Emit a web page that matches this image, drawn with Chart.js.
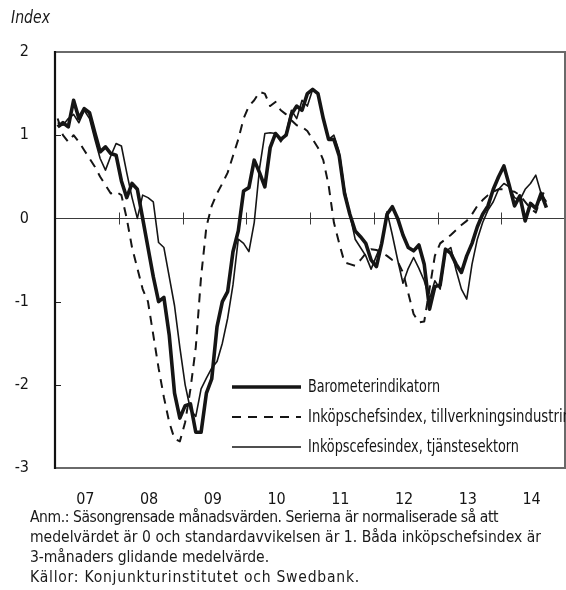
<!DOCTYPE html>
<html><head><meta charset="utf-8">
<script src="https://cdn.jsdelivr.net/npm/chart.js@4.4.1/dist/chart.umd.min.js"></script>
<style>
html,body{margin:0;padding:0;background:#fff;}
#wrap{position:relative;width:566px;height:590px;overflow:hidden;background:#fff;}
canvas{position:absolute;left:0;top:0;}
.f{font-family:"Liberation Sans Narrow","DejaVu Sans Condensed","Roboto",sans-serif;color:#1a1a1a;}
#idx{position:absolute;left:11px;top:7px;font-size:17px;font-style:italic;transform-origin:0 0;transform:scaleX(0.92);}
#notes{position:absolute;left:30px;top:507px;font-size:16.5px;line-height:20px;white-space:nowrap;}
#notes div{height:20px;}
#notes span{display:inline-block;transform-origin:0 0;}
</style></head><body>
<div id="wrap">
<canvas id="c" width="566" height="590"></canvas>
<div id="idx" class="f">Index</div>
<div id="notes" class="f">
<div><span>Anm.: Säsongrensade månadsvärden. Serierna är normaliserade så att</span></div>
<div><span>medelvärdet är 0 och standardavvikelsen är 1. Båda inköpschefsindex är</span></div>
<div><span>3-månaders glidande medelvärde.</span></div>
<div><span>Källor: Konjunkturinstitutet och Swedbank.</span></div>
</div>
</div>
<script>
// Year categories (x axis)
const yearLabels = ['07','08','09','10','11','12','13','14'];
// Series names
const seriesNames = ['Barometerindikatorn','Inköpschefsindex, tillverkningsindustrin','Inköpscefesindex, tjänstesektorn'];
// Monthly values, Jan 2007 onward
const barometer = [1.10,1.15,1.10,1.42,1.20,1.32,1.27,1.03,0.80,0.86,0.78,0.76,
  0.45,0.25,0.42,0.35,0.00,-0.35,-0.70,-1.00,-0.95,-1.40,-2.10,-2.40,
  -2.25,-2.23,-2.57,-2.57,-2.10,-1.93,-1.30,-1.00,-0.88,-0.40,-0.15,0.33,
  0.37,0.70,0.55,0.38,0.85,1.02,0.95,1.00,1.25,1.35,1.30,1.50,
  1.55,1.50,1.20,0.95,0.95,0.75,0.30,0.05,-0.15,-0.22,-0.30,-0.50,
  -0.58,-0.30,0.05,0.14,0.00,-0.20,-0.35,-0.39,-0.32,-0.55,-1.09,-0.82,
  -0.80,-0.37,-0.42,-0.55,-0.65,-0.45,-0.30,-0.10,0.05,0.15,0.35,0.50,
  0.63,0.40,0.15,0.27,-0.03,0.18,0.12,0.30,0.13];
const pmiIndustry = [1.20,1.00,0.92,1.00,0.92,0.82,0.72,0.62,0.50,0.40,0.30,0.32,
  0.28,0.00,-0.35,-0.60,-0.85,-1.00,-1.40,-1.80,-2.15,-2.45,-2.65,-2.68,
  -2.45,-2.05,-1.55,-0.70,-0.10,0.15,0.30,0.42,0.55,0.75,0.95,1.20,
  1.35,1.42,1.52,1.50,1.35,1.40,1.30,1.25,1.18,1.12,1.10,1.05,
  0.95,0.85,0.70,0.40,-0.05,-0.30,-0.53,-0.55,-0.57,-0.50,-0.42,-0.37,
  -0.38,-0.41,-0.45,-0.50,-0.52,-0.65,-0.90,-1.15,-1.25,-1.24,-0.85,-0.45,
  -0.30,-0.25,-0.20,-0.14,-0.08,-0.03,0.05,0.15,0.22,0.28,0.32,0.35,
  0.35,0.33,0.32,0.28,0.20,0.12,0.07,0.25,0.37];
const pmiServices = [1.15,1.12,1.20,1.25,1.15,1.30,1.20,0.95,0.72,0.58,0.75,0.90,
  0.87,0.55,0.25,0.00,0.28,0.25,0.20,-0.29,-0.35,-0.70,-1.05,-1.55,
  -2.00,-2.30,-2.38,-2.05,-1.92,-1.80,-1.72,-1.50,-1.20,-0.80,-0.25,-0.30,
  -0.40,-0.05,0.60,1.02,1.03,1.02,0.92,1.02,1.30,1.20,1.42,1.35,
  1.55,1.50,1.20,0.95,1.00,0.80,0.35,0.05,-0.25,-0.35,-0.45,-0.61,
  -0.45,-0.30,0.08,-0.20,-0.50,-0.78,-0.60,-0.47,-0.60,-0.75,-0.97,-0.75,
  -0.85,-0.40,-0.35,-0.62,-0.85,-0.97,-0.55,-0.25,-0.05,0.10,0.20,0.35,
  0.42,0.38,0.25,0.22,0.35,0.42,0.52,0.30,0.20];
const yTicks = [-3,-2,-1,0,1,2];

const FONT = '"Liberation Sans Narrow","DejaVu Sans Condensed","Roboto",sans-serif';
const INK = '#151515';
const toXY = arr => arr.map((v,i)=>({x:i+0.5,y:v}));

// fit note lines: one common horizontal scale, then letter-spacing per line
(function(){
  const target = [468, 511, 239, 330];
  const spans = [...document.querySelectorAll('#notes span')];
  const w0 = spans.map(s=>s.getBoundingClientRect().width);
  const sc = target[1] / w0[1];
  spans.forEach((s,i)=>{
    if(i!==1){
      const n = s.textContent.length;
      const ls = (target[i]/sc - w0[i]) / n;
      s.style.letterSpacing = ls.toFixed(3)+'px';
    }
    s.style.transform = 'scaleX(' + sc + ')';
  });
})();

const styles = [
  {w:3.6, dash:[]},
  {w:2, dash:[9,7]},
  {w:1.6, dash:[]}
];
const legendWidths = [132, 263, 211];
const seriesData = [barometer, pmiIndustry, pmiServices];

const frame = {
  id:'frame',
  beforeDatasetsDraw(chart){
    const {ctx, chartArea:a, scales:{x,y}} = chart;
    ctx.save();
    const y0 = Math.round(y.getPixelForValue(0))+0.5;
    ctx.strokeStyle='#3a3a3a'; ctx.lineWidth=1;
    ctx.beginPath(); ctx.moveTo(a.left,y0); ctx.lineTo(a.right,y0);
    for(let i=1;i<yearLabels.length;i++){
      const px = Math.round(x.getPixelForValue(i*12))+0.5;
      ctx.moveTo(px,y0-6); ctx.lineTo(px,y0+6);
    }
    ctx.stroke();
    ctx.beginPath();
    yTicks.forEach(v=>{ if(v===0||v===yTicks[0]||v===yTicks[yTicks.length-1]) return;
      const py = Math.round(y.getPixelForValue(v))+0.5;
      ctx.moveTo(a.left,py); ctx.lineTo(a.left+6,py);});
    ctx.strokeStyle='#222'; ctx.stroke();
    ctx.restore();
  },
  afterDatasetsDraw(chart){
    const {ctx, chartArea:a} = chart;
    ctx.save();
    ctx.strokeStyle='#6a6a6a'; ctx.lineWidth=2;
    ctx.beginPath();
    ctx.moveTo(a.left,a.top); ctx.lineTo(a.right,a.top); ctx.lineTo(a.right,a.bottom); ctx.lineTo(a.left,a.bottom);
    ctx.stroke();
    ctx.strokeStyle='#111'; ctx.lineWidth=2.2;
    ctx.beginPath(); ctx.moveTo(a.left,a.top-1); ctx.lineTo(a.left,a.bottom+1); ctx.stroke();
    // legend
    const lx0 = 232, lx1 = 301, tx = 308, rows = [387,417,447];
    ctx.font = '17px '+FONT; ctx.fillStyle = INK; ctx.textBaseline='middle';
    seriesNames.forEach((n,i)=>{
      ctx.beginPath(); ctx.strokeStyle=INK; ctx.lineWidth=styles[i].w; ctx.setLineDash(styles[i].dash);
      ctx.moveTo(lx0,rows[i]); ctx.lineTo(lx1,rows[i]); ctx.stroke();
      ctx.setLineDash([]);
      const sx = legendWidths[i] / ctx.measureText(n).width;
      ctx.save(); ctx.translate(tx, rows[i]+1); ctx.scale(sx,1);
      ctx.fillText(n, 0, 0); ctx.restore();
    });
    ctx.restore();
  }
};

new Chart(document.getElementById('c'),{
  type:'line',
  data:{datasets: seriesNames.map((n,i)=>({
    label:n, data:toXY(seriesData[i]), borderColor:INK, borderWidth:styles[i].w,
    borderDash:styles[i].dash, pointRadius:0, tension:0, fill:false,
    borderJoinStyle:'round', borderCapStyle:'butt'
  })).reverse()},
  options:{
    responsive:false, animation:false, devicePixelRatio:1,
    layout:{padding:{top:52,left:0,right:1,bottom:77}},
    plugins:{legend:{display:false},tooltip:{enabled:false}},
    scales:{
      x:{type:'linear',min:0,max:96,
        afterBuildTicks:s=>{s.ticks = yearLabels.map((l,i)=>({value:i*12+5.7}));},
        afterFit:s=>{s.height=45;},
        grid:{display:false}, border:{display:false},
        ticks:{autoSkip:false,maxRotation:0,padding:14,color:INK,font:{family:FONT,size:16},
          callback:(v,i)=>yearLabels[i]}},
      y:{type:'linear',min:-3,max:2,
        afterBuildTicks:s=>{s.ticks = yTicks.map(v=>({value:v}));},
        afterFit:s=>{s.width=55;},
        grid:{display:false}, border:{display:false},
        ticks:{padding:18,color:INK,font:{family:FONT,size:16}}}
    }
  },
  plugins:[frame]
});
</script>
</body></html>
